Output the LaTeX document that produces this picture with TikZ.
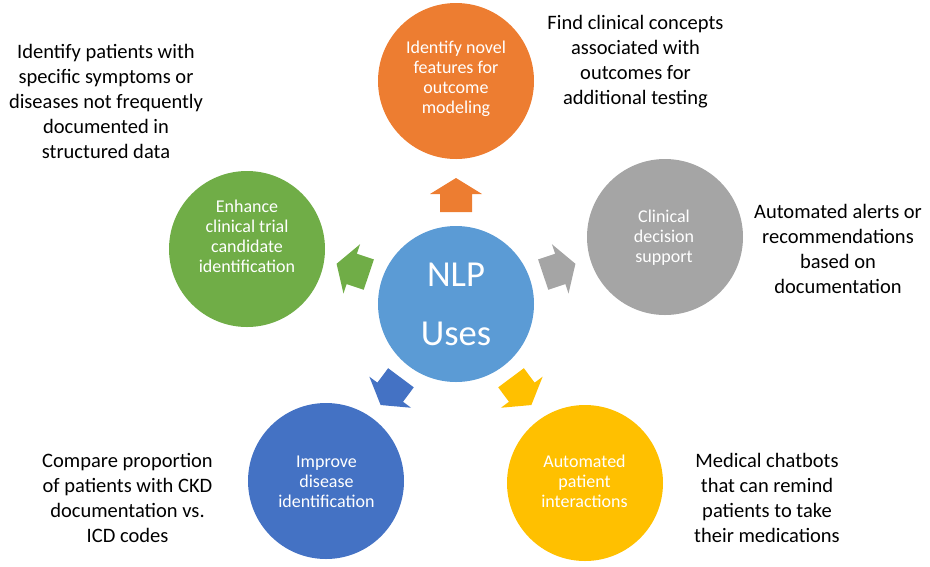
\documentclass[tikz,border=0pt]{standalone}
\usepackage{fontspec}
\setmainfont{Carlito}
\definecolor{cCenter}{HTML}{5B9BD5}
\definecolor{cOrange}{HTML}{ED7D31}
\definecolor{cGray}{HTML}{A5A5A5}
\definecolor{cGold}{HTML}{FFC000}
\definecolor{cBlue}{HTML}{4472C4}
\definecolor{cGreen}{HTML}{70AD47}
\begin{document}
\begin{tikzpicture}[x=1pt,y=-1pt,
  disc/.style={circle, fill=#1, draw=none, minimum size=156pt, inner sep=0pt},
  intext/.style={text=white, align=center, inner sep=0pt, font=\fontsize{18}{20}\selectfont},
  outtext/.style={text=black, align=center, inner sep=0pt, font=\fontsize{20.5}{25}\selectfont},
  pics/blockarrow/.style={code={
    \fill[#1] (-17,-16) -- (1,-16) -- (1,-26) -- (17,0) -- (1,26) -- (1,16) -- (-17,16) -- cycle;}}
]
\useasboundingbox (0,0) rectangle (930,566);

% central hub
\node[disc=cCenter] (hub) at (456,304) {};
\node[text=white, align=center, inner sep=0pt, font=\fontsize{36.6}{59}\selectfont]
  (hubtext) at (hub) {\strut NLP\\Uses\strut};

% surrounding discs
\node[disc=cOrange] (feat) at (456,81) {};
\node[disc=cGreen]  (trial) at (247,249) {};
\node[disc=cGray]   (cds) at (665,237) {};
\node[disc=cBlue]   (disease) at (326,481) {};
\node[disc=cGold]   (bots) at (585,483) {};

\node[intext] (feattext) at (456,79) {\strut Identify novel\\features for\\outcome\\modeling\strut};
\node[intext] (trialtext) at (247,238) {\strut Enhance\\clinical trial\\candidate\\identification\strut};
\node[intext] (cdstext) at (664,238) {\strut Clinical\\decision\\support\strut};
\node[intext] (diseasetext) at (326.5,483.5) {\strut Improve\\disease\\identification\strut};
\node[intext] (botstext) at (584.5,483.5) {\strut Automated\\patient\\interactions\strut};

% block arrows pointing out of the hub
\pic[rotate=90]    at (456,195)       {blockarrow=cOrange};
\pic[rotate=161.4] at (352.7,269.2)   {blockarrow=cGreen};
\pic[rotate=18.6]  at (559.3,269.2)   {blockarrow=cGray};
\pic[rotate=233.3] at (390.8,391.4)   {blockarrow=cBlue};
\pic[rotate=306.7] at (521.2,391.4)   {blockarrow=cGold};

% descriptions
\node[outtext] (trialnote) at (106,103) {\strut Identify patients with\\specific symptoms or\\diseases not frequently\\documented in\\structured data\strut};
\node[outtext] (featnote) at (635.5,61.5) {\strut Find clinical concepts\\associated with\\outcomes for\\additional testing\strut};
\node[outtext] (cdsnote) at (838,250.5) {\strut Automated alerts or\\recommendations\\based on\\documentation\strut};
\node[outtext] (diseasenote) at (127.5,499.5) {\strut Compare proportion\\of patients with CKD\\documentation vs.\\ICD codes\strut};
\node[outtext] (botsnote) at (767,499.5) {\strut Medical chatbots\\that can remind\\patients to take\\their medications\strut};
\end{tikzpicture}
\end{document}
